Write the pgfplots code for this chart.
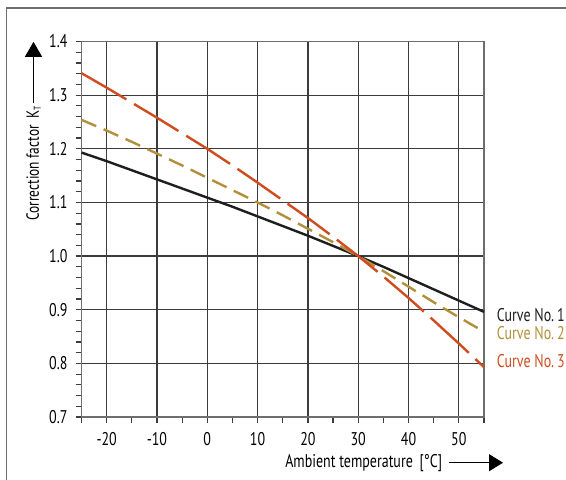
\documentclass[border=0pt]{standalone}
\usepackage{fontspec}
\setmainfont[FakeStretch=0.76]{PT Sans}
\usepackage{pgfplots}
\pgfplotsset{compat=1.18}
\usetikzlibrary{arrows.meta}

\definecolor{cblack}{RGB}{30,30,30}
\definecolor{cgold}{RGB}{178,143,58}
\definecolor{cred}{RGB}{208,76,30}
\definecolor{gridc}{RGB}{60,60,60}
\definecolor{framec}{RGB}{110,110,110}

\pgfplotstableread{
T     k1      k2      k3
-25   1.193   1.254   1.341
-20   1.177   1.234   1.314
-15   1.160   1.213   1.286
-10   1.143   1.191   1.258
-5    1.126   1.169   1.229
0     1.109   1.146   1.200
5     1.092   1.123   1.169
10    1.074   1.100   1.137
15    1.056   1.076   1.104
20    1.038   1.051   1.071
25    1.019   1.026   1.036
30    1.000   1.000   1.000
35    0.980   0.972   0.962
40    0.959   0.943   0.922
45    0.938   0.914   0.880
50    0.917   0.886   0.837
55    0.896   0.859   0.793
}\kfactors

\begin{document}
\begin{tikzpicture}[font=\fontsize{9.2}{11}\selectfont]
\useasboundingbox (-40.75pt,-31pt) rectangle (242.25pt,208.5pt);
% outer frame (only left and top edges visible)
\draw[framec, line width=0.8pt] (-37.5pt,-40pt) -- (-37.5pt,204.5pt) -- (250pt,204.5pt);

\begin{axis}[
    at={(0,0)}, anchor=south west,
    scale only axis,
    width=201.25pt, height=187.75pt,
    xmin=-25, xmax=55, ymin=0.7, ymax=1.4,
    xtick={-20,-10,...,50},
    xticklabels={-20,-10,0,10,20,30,40,50},
    minor xtick={-25,-15,...,55},
    ytick={0.7,0.8,...,1.41},
    yticklabels={0.7,0.8,0.9,1.0,1.1,1.2,1.3,1.4},
    minor y tick num=4,
    xmajorgrids, ymajorgrids,
    grid style={gridc, line width=0.65pt},
    axis line style={framec, line width=0.8pt},
    tick align=outside,
    xtick pos=bottom, ytick pos=left,
    major tick length=3pt, minor tick length=3pt,
    tick style={gridc, line width=0.6pt},
    xticklabel style={yshift=-1pt},
    yticklabel style={xshift=-0.5pt},
    clip=false,
]
\addplot[cblack, line width=1.2pt] table[x=T, y=k1] {\kfactors};
\addplot[cgold, line width=1.2pt, dash pattern=on 8pt off 4pt] table[x=T, y=k2] {\kfactors};
\addplot[cred, line width=1.2pt, dash pattern=on 26pt off 4.5pt] table[x=T, y=k3] {\kfactors};
\end{axis}

% curve labels
\node[anchor=west, text=cblack, inner sep=0pt] at (207.5pt,51pt) {Curve No.\,1};
\node[anchor=west, text=cgold, inner sep=0pt] at (207.5pt,42pt) {Curve No.\,2};
\node[anchor=west, text=cred, inner sep=0pt] at (207.5pt,28pt) {Curve No.\,3};

% y axis label with arrow
\node[rotate=90, inner sep=0pt, font=\fontsize{8.8}{10}\selectfont] at (-24pt,127pt) {Correction factor\, K\textsubscript{\tiny T}};
\draw[line width=0.5pt, -{Triangle[length=7.5pt,width=8.5pt]}] (-24pt,157pt) -- (-24pt,187.6pt);

% x axis label with arrow
\node[anchor=east, inner sep=0pt] at (180.5pt,-22.85pt) {Ambient temperature\, [°C]};
\draw[line width=0.5pt, -{Triangle[length=7pt,width=8.5pt]}] (183.5pt,-22.85pt) -- (210.75pt,-22.85pt);
\end{tikzpicture}
\end{document}
